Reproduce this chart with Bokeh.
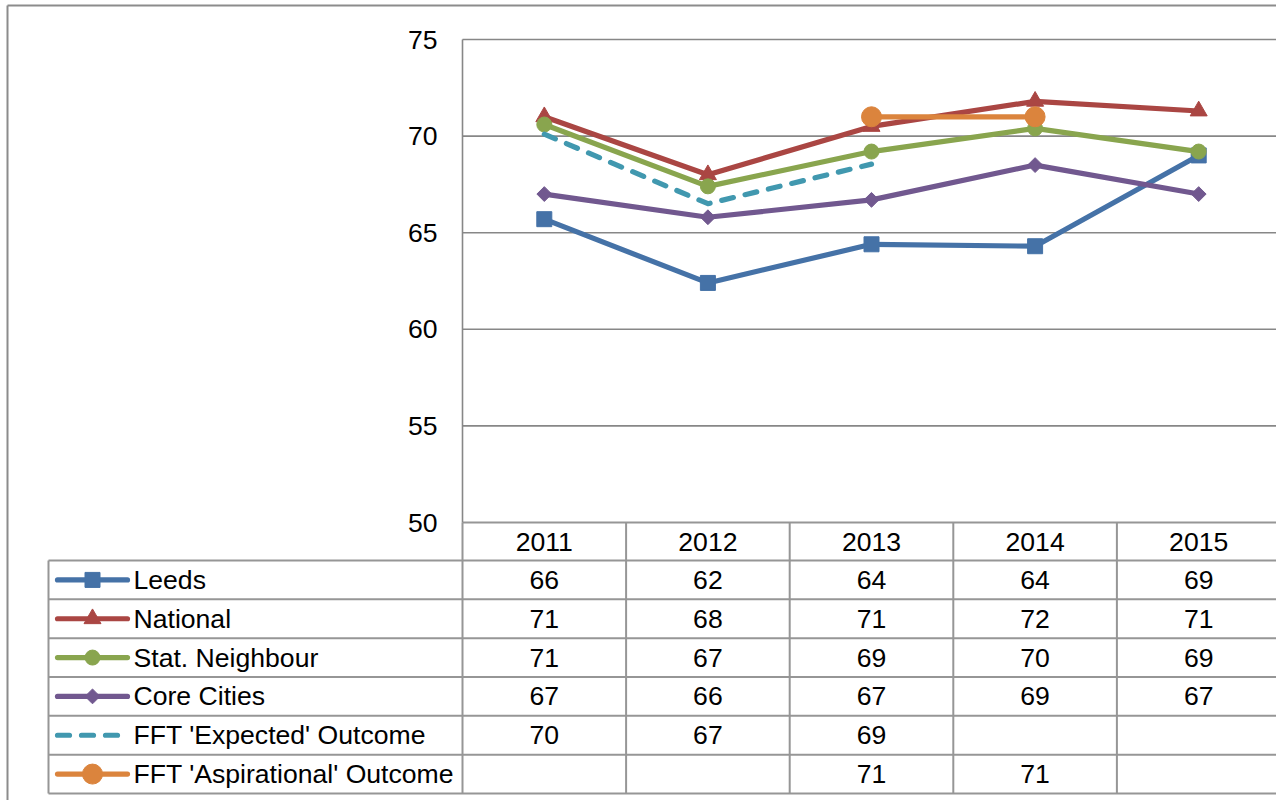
import numpy as np
from bokeh.plotting import figure
from bokeh.models import Range1d, FixedTicker, LinearAxis
from bokeh.core.properties import value
from bokeh.embed import file_html
from bokeh.resources import INLINE

# ---------------- data ----------------
years = [2011, 2012, 2013, 2014, 2015]
leeds = [65.7, 62.4, 64.4, 64.3, 69.0]
national = [71.0, 68.0, 70.5, 71.8, 71.3]
stat_neighbour = [70.6, 67.4, 69.2, 70.4, 69.2]
core_cities = [67.0, 65.8, 66.7, 68.5, 67.0]
fft_expected = [70.1, 66.5, 68.55, np.nan, np.nan]
fft_aspirational = [np.nan, np.nan, 71.0, 71.0, np.nan]
series_names = ["Leeds", "National", "Stat. Neighbour", "Core Cities",
                "FFT 'Expected' Outcome", "FFT 'Aspirational' Outcome"]
y_ticks = [50, 55, 60, 65, 70, 75]

# ---------------- styling / layout ----------------
FONT = "Liberation Sans"
FS = "26.6px"
GRID = "#878787"
TABLE_LINE = "#969696"
FRAME = "#8c8c8c"
LW = 5.2
W, H = 1276, 800
AXIS_PX = 462.0      # page x of the value axis
COL_W = 163.6        # px width of one year column
TOP_PX, BOT_PX = 39.0, 522.0   # page y of 75 and 50
PX_PER_UNIT = (BOT_PX - TOP_PX) / (y_ticks[-1] - y_ticks[0])
ROW_H = 38.83
ROW0_PX = 560.0


def px2x(px):
    return years[0] - 0.5 + (px - AXIS_PX) / COL_W


def py2y(py):
    return y_ticks[-1] - (py - TOP_PX) / PX_PER_UNIT


styles = [
    dict(color="#4572A7", marker="square", size=15, angle=0.0, dash="solid"),
    dict(color="#AA4643", marker="triangle", size=17, angle=0.0, dash="solid"),
    dict(color="#89A54E", marker="circle", size=15, angle=0.0, dash="solid"),
    dict(color="#71588F", marker="square", size=10.5, angle=np.pi / 4, dash="solid"),
    dict(color="#4198AF", marker=None, size=0, angle=0.0, dash="12 12"),
    dict(color="#DB843D", marker="circle", size=20, angle=0.0, dash="solid"),
]
series = [leeds, national, stat_neighbour, core_cities, fft_expected, fft_aspirational]

p = figure(width=W, height=H, output_backend="svg", toolbar_location=None,
           x_range=Range1d(px2x(0), px2x(W)), y_range=Range1d(py2y(H), py2y(0)),
           min_border_left=0, min_border_right=0, min_border_top=0, min_border_bottom=0,
           x_axis_location=None, y_axis_location=None)
p.outline_line_color = None
p.background_fill_color = "white"
p.border_fill_color = "white"
p.grid.visible = False

x_left = years[0] - 0.5
x_right = px2x(W + 30)
bounds = [y - 0.5 for y in years] + [years[-1] + 0.5]

# outer chart-area frame
p.segment(x0=[px2x(7), px2x(7)], y0=[py2y(5), py2y(5)], x1=[px2x(7), x_right], y1=[py2y(H + 10), py2y(5)],
          line_color=FRAME, line_width=2)

# horizontal gridlines (55..75)
p.segment(x0=[x_left] * (len(y_ticks) - 1), y0=y_ticks[1:], x1=[x_right] * (len(y_ticks) - 1),
          y1=y_ticks[1:], line_color=GRID, line_width=1.6)

# value axis (library axis at a fixed location)
yax = LinearAxis(fixed_location=x_left, ticker=FixedTicker(ticks=y_ticks), bounds=(y_ticks[0], y_ticks[-1]))
yax.axis_line_color = GRID
yax.axis_line_width = 1.6
yax.major_tick_line_color = None
yax.minor_tick_line_color = None
yax.major_tick_in = 0
yax.major_tick_out = 0
yax.major_label_standoff = 25
yax.major_label_text_font = FONT
yax.major_label_text_font_size = FS
yax.major_label_text_color = "black"
p.add_layout(yax, "left")

# ---------------- data table ----------------
n_rows = len(series_names)
row_lines = [py2y(ROW0_PX + ROW_H * k) for k in range(n_rows + 1)]
leg_left = px2x(48)
table_bottom = row_lines[-1]
p.segment(x0=[x_left], y0=[y_ticks[0]], x1=[x_right], y1=[y_ticks[0]], line_color=TABLE_LINE, line_width=2)
p.segment(x0=[leg_left] * len(row_lines), y0=row_lines, x1=[x_right] * len(row_lines), y1=row_lines,
          line_color=TABLE_LINE, line_width=2)
p.segment(x0=bounds, y0=[y_ticks[0]] * len(bounds), x1=bounds, y1=[table_bottom] * len(bounds),
          line_color=TABLE_LINE, line_width=2)
p.segment(x0=[leg_left], y0=[row_lines[0]], x1=[leg_left], y1=[table_bottom],
          line_color=TABLE_LINE, line_width=2)

# header (years)
p.text(years, [py2y((BOT_PX + ROW0_PX) / 2)] * len(years), text=[str(y) for y in years],
       text_font=value(FONT), text_font_size=value(FS), text_baseline="middle",
       text_align="center", text_color="black")

# ---------------- series ----------------
for vals, st in zip(series, styles):
    xs = [x for x, v in zip(years, vals) if not np.isnan(v)]
    vs = [v for v in vals if not np.isnan(v)]
    p.line(xs, vs, line_color=st["color"], line_width=LW, line_dash=st["dash"],
           line_cap="round" if st["dash"] != "solid" else "butt", line_join="round")
    if st["marker"]:
        p.scatter(xs, vs, marker=st["marker"], size=st["size"], angle=st["angle"],
                  fill_color=st["color"], line_color=st["color"], line_width=1)

for i, (name, vals, st) in enumerate(zip(series_names, series, styles)):
    yc = (row_lines[i] + row_lines[i + 1]) / 2
    p.line([px2x(57), px2x(127)], [yc, yc], line_color=st["color"], line_width=LW,
           line_dash=st["dash"], line_cap="round")
    if st["marker"]:
        p.scatter([px2x(92)], [yc], marker=st["marker"], size=st["size"], angle=st["angle"],
                  fill_color=st["color"], line_color=st["color"], line_width=1)
    p.text([px2x(133)], [yc], text=[name], text_font=value(FONT), text_font_size=value(FS),
           text_baseline="middle", text_align="left", text_color="black")
    xs = [x for x, v in zip(years, vals) if not np.isnan(v)]
    labels = [str(int(np.floor(v + 0.5))) for v in vals if not np.isnan(v)]
    p.text(xs, [yc] * len(xs), text=labels, text_font=value(FONT), text_font_size=value(FS),
           text_baseline="middle", text_align="center", text_color="black")

open("out.html", "w").write(file_html(p, INLINE))
